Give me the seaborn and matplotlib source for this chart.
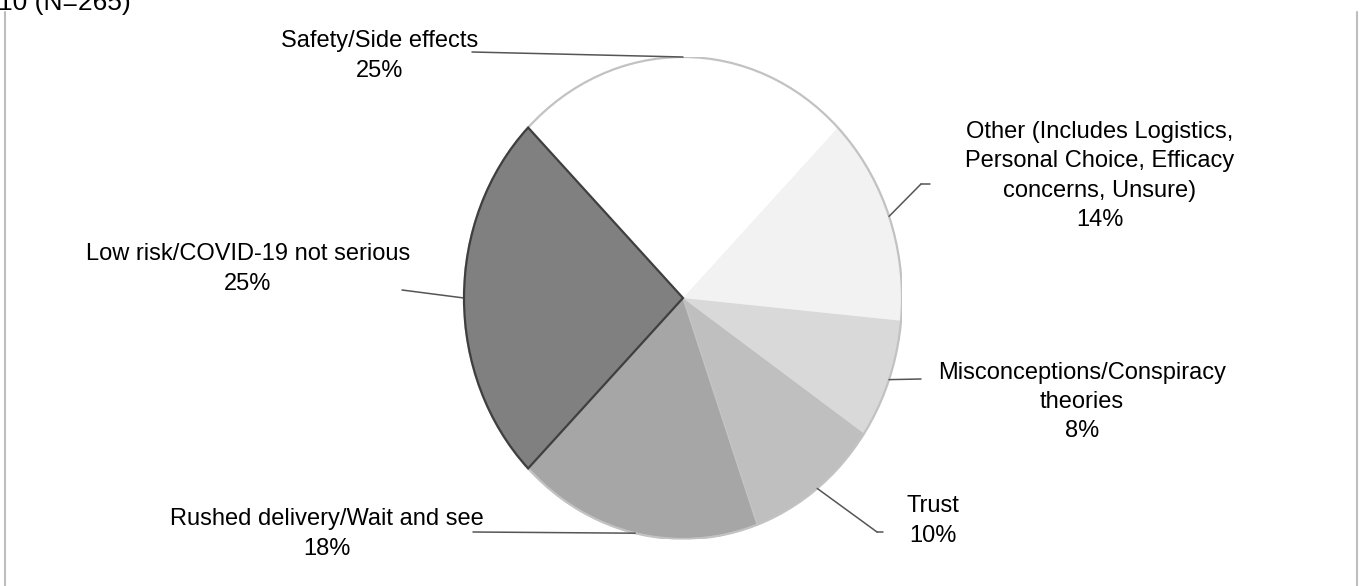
import numpy as np
import matplotlib

matplotlib.use("Agg")
import matplotlib.pyplot as plt
import seaborn as sns
from matplotlib.lines import Line2D
from matplotlib.patches import Ellipse

# data, clockwise from the top-left
labels = [
    "Safety/Side effects",
    "Other (Includes Logistics,\nPersonal Choice, Efficacy\nconcerns, Unsure)",
    "Misconceptions/Conspiracy\ntheories",
    "Trust",
    "Rushed delivery/Wait and see",
    "Low risk/COVID-19 not serious",
]
shares = [25, 14, 8, 10, 18, 25]
greys = ["#ffffff", "#f2f2f2", "#d9d9d9", "#bfbfbf", "#a6a6a6", "#808080"]

# label centres (figure pixels from top-left) and leader end points
label_pos = [(380, 56), (1100, 176), (1082, 402), (933, 521), (327, 534), (248, 269)]
leader_end = [(472, 52), (921, 184), (921, 379), (877, 532), (473, 532), (402, 290)]
leader_tail = [None, (930, 184), None, (883, 532), None, None]

W, H = 1360, 586
sns.set_theme(style="white")
plt.rcParams["font.family"] = ["Liberation Sans", "DejaVu Sans"]

fig = plt.figure(figsize=(W / 100, H / 100), dpi=100)
cx, cy, rx, ry = 683, 298, 219, 241
ax = fig.add_axes([(cx - rx) / W, (H - cy - ry) / H, 2 * rx / W, 2 * ry / H])

wedges, _ = ax.pie(
    shares,
    colors=greys,
    startangle=135,
    counterclock=False,
    radius=1,
    wedgeprops=dict(linewidth=0),
)
ax.set_aspect("auto")
ax.set_xlim(-1, 1)
ax.set_ylim(-1, 1)
ax.axis("off")

# soft outline round the pie, darker rim on the darkest slice
ax.add_patch(Ellipse((0, 0), 2, 2, fill=False, edgecolor="#c2c2c2", lw=1.6, zorder=3))
wedges[-1].set_edgecolor("#3f3f3f")
wedges[-1].set_linewidth(1.6)
wedges[-1].set_zorder(4)
wedges[-2].set_edgecolor("#c4c4c4")
wedges[-2].set_linewidth(1.0)

def to_fig(p):
    return (p[0], H - p[1])

for w, lab, share, pos, end, tail in zip(wedges, labels, shares, label_pos, leader_end, leader_tail):
    mid = np.deg2rad((w.theta1 + w.theta2) / 2)
    ax.annotate(
        "",
        xy=(np.cos(mid), np.sin(mid)),
        xycoords="data",
        xytext=to_fig(end),
        textcoords="figure pixels",
        arrowprops=dict(arrowstyle="-", color="#555555", lw=1.1, shrinkA=0, shrinkB=0),
        annotation_clip=False,
    )
    if tail is not None:
        fig.add_artist(Line2D([end[0] / W, tail[0] / W], [1 - end[1] / H, 1 - tail[1] / H],
                              color="#555555", lw=1.1))
    fig.text(pos[0] / W, 1 - pos[1] / H, f"{lab}\n{share}%", ha="center", va="center",
             fontsize=17, linespacing=1.44, color="black")

# caption clipped by the top edge, as in the source, and the side rules of the frame
fig.text(-2 / W, 1 - 10 / H, "10 (N=265)", ha="left", va="baseline", fontsize=19, color="black")
for x in (5, 1357):
    fig.add_artist(Line2D([x / W, x / W], [0, 1 - 12 / H], color="#bdbdbd", lw=1.5))

fig.savefig("out.png", dpi=100)
